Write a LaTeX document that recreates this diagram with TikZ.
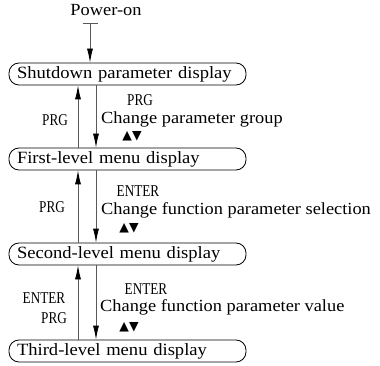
\documentclass[tikz,border=0pt]{standalone}
\usepackage{fontspec}
\setmainfont{Liberation Serif}[FakeStretch=1.08]
\newfontfamily\condfont{Liberation Serif}[FakeStretch=0.8]
\newfontfamily\symfont{DejaVu Sans}
\usetikzlibrary{arrows.meta}
\begin{document}
\begin{tikzpicture}[x=1pt,y=-1pt,
  menubox/.style={draw=black, line width=0.8pt, rounded corners=10pt,
    minimum width=237pt, minimum height=22pt, inner xsep=8pt, inner ysep=0pt,
    text width=221pt, align=left, font=\fontsize{17.2}{19}\selectfont},
  txt/.style={inner sep=0pt, font=\fontsize{17}{19}\selectfont},
  key/.style={inner sep=0pt, font=\condfont\fontsize{16.5}{18}\selectfont},
  tri/.style={inner sep=0pt, font=\symfont\fontsize{12.5}{13}\selectfont},
  flow/.style={draw=black!65, line width=0.8pt,
    -{Latex[length=14pt,width=6pt,black]}}
]
\useasboundingbox (0,0) rectangle (380,366);

\node[txt] (pw) at (106,10) {Power-on};
\coordinate (pwbar) at (90,23);

\node[menubox] (shut) at (127.5,74) {Shutdown parameter display};
\node[menubox] (first) at (127.5,159) {First-level menu display};
\node[menubox] (second) at (127.5,254) {Second-level menu display};
\node[menubox] (third) at (127.5,351) {Third-level menu display};

\coordinate (ux) at (78,0);
\coordinate (dx) at (96,0);

\draw[flow, {Bar[width=15pt]}-{Latex[length=14pt,width=6pt,black]}] (pwbar) -- (shut.north -| pwbar);

% section 1
\draw[flow] (first.north -| ux) -- (shut.south -| ux);
\draw[flow] (shut.south -| dx) -- (first.north -| dx);
\node[key] (prgl1) at (55,120) {PRG};
\node[key] (prgr1) at (140,100.5) {PRG};
\node[txt, anchor=west] (chg1) at (101,119) {Change parameter group};
\node[tri] (ud1) at (132,136) {▲▼};

% section 2
\draw[flow] (second.north -| ux) -- (first.south -| ux);
\draw[flow] (first.south -| dx) -- (second.north -| dx);
\node[key] (prgl2) at (52,207) {PRG};
\node[key] (ent2) at (138,191) {ENTER};
\node[txt, anchor=west] (chg2) at (101,210) {Change function parameter selection};
\node[tri] (ud2) at (129,228) {▲▼};

% section 3
\draw[flow] (third.north -| ux) -- (second.south -| ux);
\draw[flow] (second.south -| dx) -- (third.north -| dx);
\node[key] (entl3) at (44,298) {ENTER};
\node[key] (prgl3) at (54,318) {PRG};
\node[key] (ent3) at (146,289) {ENTER};
\node[txt, anchor=west] (chg3) at (100,307) {Change function parameter value};
\node[tri] (ud3) at (129,327) {▲▼};
\end{tikzpicture}
\end{document}
